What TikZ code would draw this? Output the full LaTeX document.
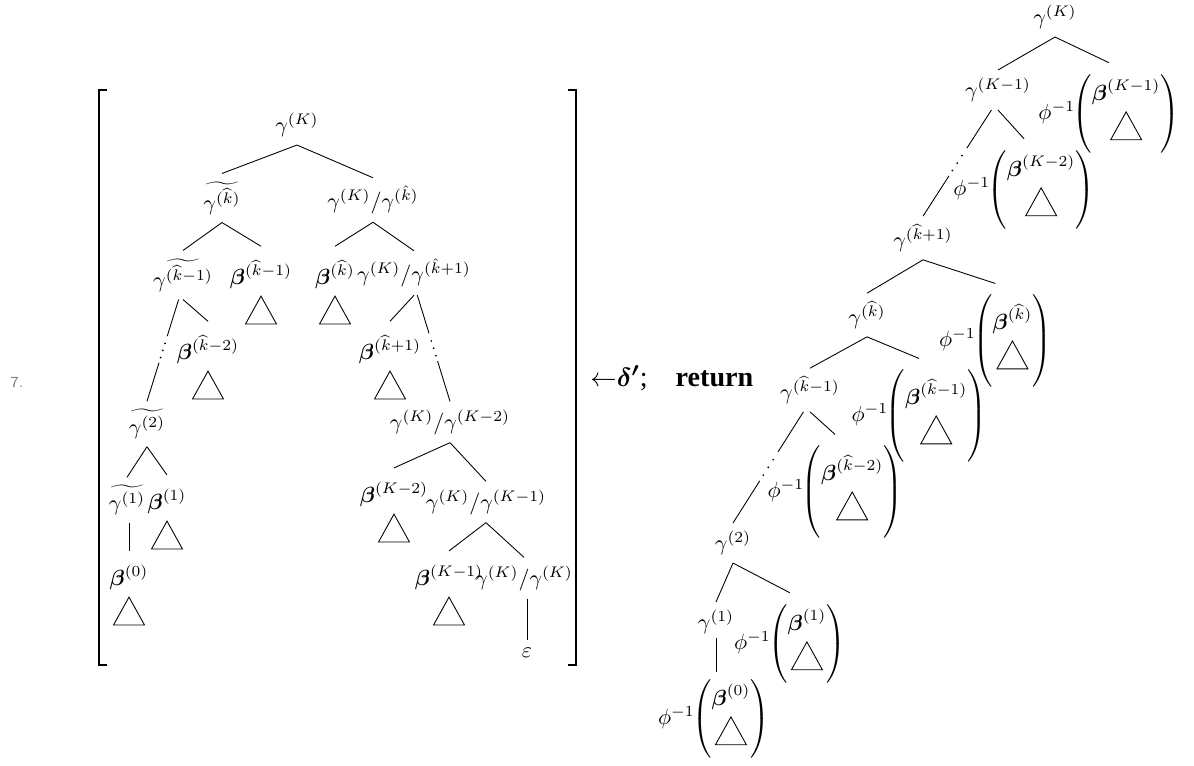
\documentclass[tikz,border=0pt]{standalone}
\usepackage{amsmath}
\usepackage{fontspec}
\newfontfamily\tms{Liberation Serif}
\usetikzlibrary{calc}
\tikzset{
  lbl/.style={inner sep=3.5pt},
  leafnode/.style={inner sep=6pt, anchor=south},
  grp/.style={inner sep=5pt, anchor=south east},
  brk/.style={line width=1pt},
}
% leaf triangle and beta-with-triangle
\newcommand{\leaf}{\tikz[x=1pt,y=1pt]\draw (0,0) -- (14.1,0) -- (7.05,12.7) -- cycle;}
\newcommand{\bt}[1]{\begin{array}{@{}c@{}}\boldsymbol{\beta}^{(#1)}\\[1.3pt] \leaf\end{array}}
% phi^{-1} applied to a leaf, #2 = half height of the parentheses
\newcommand{\phib}[2]{\phi^{-1}\mskip-5mu\left(\bt{#1}\vphantom{\rule[-#2]{0pt}{#2}\rule{0pt}{#2}}\right)}
% broken edge with dots
\newcommand{\chainedge}[2]{%
  \draw (#1) -- ($(#1)!.36!(#2.north)$) ($(#1)!.62!(#2.north)$) -- (#2.north);
  \foreach \t in {.43,.5,.57} \fill ($(#1)!\t!(#2.north)$) circle (0.45pt);}

\begin{document}
\begin{tikzpicture}[x=0.455pt, y=-0.455pt]
  \useasboundingbox (0,0) rectangle (1194,765);

  \node[text=gray] (num) at (17,383) {\sffamily\fontsize{7}{8}\selectfont 7.};

  % bracket
  \draw[brk] (107,90) -- (99,90) -- (99,665) -- (107,665);
  \draw[brk] (568,90) -- (576,90) -- (576,665) -- (568,665);

  % left tree
  \node[lbl] (gK) at (297,125) {$\gamma^{(K)}$};
  \node[lbl] (gkh) at (222,198) {$\widetilde{\gamma^{(\widehat{k})}}$};
  \node[lbl] (qkh) at (373,200) {$\gamma^{(K)}/\gamma^{(\hat{k})}$};
  \node[lbl] (gkm1) at (183,275) {$\widetilde{\gamma^{(\widehat{k}-1)}}$};
  \node[leafnode] (bkm1) at (261,346) {$\bt{\widehat{k}-1}$};
  \node[leafnode] (bkh) at (335,346) {$\bt{\widehat{k}}$};
  \node[lbl] (qkp1) at (414,273) {$\gamma^{(K)}/\gamma^{(\hat{k}+1)}$};
  \node[leafnode] (bkm2) at (208,421) {$\bt{\widehat{k}-2}$};
  \node[leafnode] (bkp1) at (390,421) {$\bt{\widehat{k}+1}$};
  \node[lbl] (g2) at (147,424) {$\widetilde{\gamma^{(2)}}$};
  \node[lbl] (qKm2) at (450,422) {$\gamma^{(K)}/\gamma^{(K-2)}$};
  \node[lbl] (g1) at (127,500) {$\widetilde{\gamma^{(1)}}$};
  \node[leafnode] (b1) at (167,571) {$\bt{1}$};
  \node[leafnode] (bKm2) at (394,564) {$\bt{K-2}$};
  \node[lbl] (qKm1) at (486,502) {$\gamma^{(K)}/\gamma^{(K-1)}$};
  \node[leafnode] (b0) at (129,647) {$\bt{0}$};
  \node[leafnode] (bKm1) at (449,647) {$\bt{K-1}$};
  \node[lbl] (qKK) at (524,578) {$\gamma^{(K)}/\gamma^{(K)}$};
  \node[lbl] (eps) at (527,653) {$\varepsilon$};

  \draw (gK.south) -- (gkh.north) (gK.south) -- (qkh.north)
        (gkh.south) -- (gkm1.north) (gkh.south) -- (bkm1.north)
        (qkh.south) -- (bkh.north) (qkh.south) -- (qkp1.north)
        (gkm1.south) -- (bkm2.north)
        (qkp1.south) -- (bkp1.north)
        (g2.south) -- (g1.north) (g2.south) -- (b1.north)
        (qKm2.south) -- (bKm2.north) (qKm2.south) -- (qKm1.north)
        (qKm1.south) -- (bKm1.north) (qKm1.south) -- (qKK.north);
  \draw (g1.south -| b0.north) -- (b0.north);
  \draw (eps.north |- qKK.south) -- (eps.north);
  \coordinate (c1) at ([xshift=-2pt]gkm1.south);
  \coordinate (c2) at ([xshift=1.5pt]qkp1.south);
  \chainedge{c1}{g2}
  \chainedge{c2}{qKm2}

  % result
  \node[anchor=west, inner sep=0pt] (ret) at (590,378)
    {\fontsize{12.8}{15}\selectfont\tms ${\leftarrow}\boldsymbol{\delta'}$;\quad\textbf{return}};

  % right tree
  \node[lbl] (rK) at (1055,17) {$\gamma^{(K)}$};
  \node[lbl] (rKm1) at (998,90) {$\gamma^{(K-1)}$};
  \node[grp] (p1) at (1191,168) {$\phib{K-1}{17pt}$};
  \node[grp] (p2) at (1106,244) {$\phib{K-2}{17pt}$};
  \node[lbl] (rkp1) at (923,238) {$\gamma^{(\widehat{k}+1)}$};
  \node[lbl] (rkh) at (867,315) {$\gamma^{(\widehat{k})}$};
  \node[grp] (p3) at (1063,403) {$\phib{\widehat{k}}{20.5pt}$};
  \node[lbl] (rkm1) at (810,390) {$\gamma^{(\widehat{k}-1)}$};
  \node[grp] (p4) at (998,478) {$\phib{\widehat{k}-1}{20.5pt}$};
  \node[grp] (p5) at (914,554) {$\phib{\widehat{k}-2}{20.5pt}$};
  \node[lbl] (r2) at (733,543) {$\gamma^{(2)}$};
  \node[lbl] (r1) at (716,622) {$\gamma^{(1)}$};
  \node[grp] (p6) at (857,698) {$\phib{1}{17pt}$};
  \node[grp] (p7) at (781,773) {$\phib{0}{17pt}$};

  \draw (rK.south) -- (rKm1.north) (rK.south) -- (p1.north)
        (rKm1.south) -- (p2.north)
        (rkp1.south) -- (rkh.north) (rkp1.south) -- (p3.north)
        (rkh.south) -- (rkm1.north) (rkh.south) -- (p4.north)
        (rkm1.south) -- (p5.north)
        (r2.south) -- (r1.north) (r2.south) -- (p6.north);
  \coordinate (v1) at (r1.south |- p7.north);
  \draw ([yshift=2pt]r1.south) -- ([yshift=-2pt]v1);
  \coordinate (c3) at ([xshift=-3pt]rKm1.south);
  \coordinate (c4) at ([xshift=-3pt]rkm1.south);
  \chainedge{c3}{rkp1}
  \chainedge{c4}{r2}
\end{tikzpicture}
\end{document}
